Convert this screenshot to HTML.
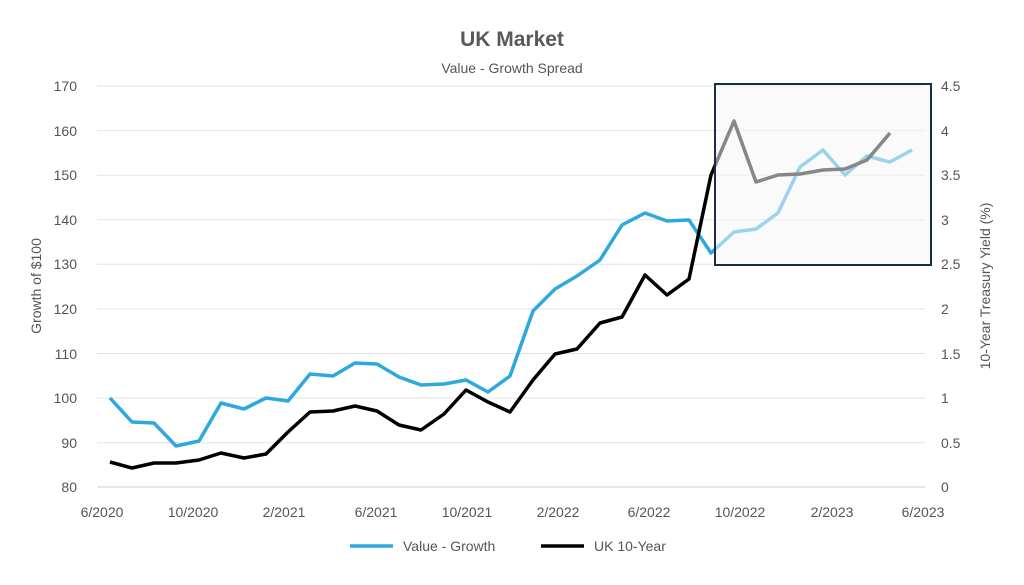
<!DOCTYPE html>
<html><head><style>
body{margin:0;background:#fff;}
svg text{font-family:"Liberation Sans",sans-serif;fill:#555;}
</style></head><body>
<svg width="1024" height="580" viewBox="0 0 1024 580" xmlns="http://www.w3.org/2000/svg">
<text x="512" y="46" text-anchor="middle" font-size="21" font-weight="bold" fill="#595959" style="fill:#595959">UK Market</text>
<text x="512" y="73" text-anchor="middle" font-size="14">Value - Growth Spread</text>
<g stroke="#e3e3e3" stroke-width="1">
<line x1="97" x2="925" y1="86" y2="86"/><line x1="97" x2="925" y1="130.6" y2="130.6"/>
<line x1="97" x2="925" y1="175.2" y2="175.2"/><line x1="97" x2="925" y1="219.8" y2="219.8"/>
<line x1="97" x2="925" y1="264.3" y2="264.3"/><line x1="97" x2="925" y1="308.9" y2="308.9"/>
<line x1="97" x2="925" y1="353.5" y2="353.5"/><line x1="97" x2="925" y1="398.1" y2="398.1"/>
<line x1="97" x2="925" y1="442.7" y2="442.7"/>
</g>
<line x1="97" x2="925" y1="487" y2="487" stroke="#cfcfcf"/>
<g font-size="14" text-anchor="end">
<text x="77" y="91">170</text><text x="77" y="136">160</text><text x="77" y="180">150</text>
<text x="77" y="225">140</text><text x="77" y="269">130</text><text x="77" y="314">120</text>
<text x="77" y="359">110</text><text x="77" y="403">100</text><text x="77" y="448">90</text>
<text x="77" y="492">80</text>
</g>
<g font-size="14" text-anchor="start">
<text x="941" y="91">4.5</text><text x="941" y="136">4</text><text x="941" y="180">3.5</text>
<text x="941" y="225">3</text><text x="941" y="269">2.5</text><text x="941" y="314">2</text>
<text x="941" y="359">1.5</text><text x="941" y="403">1</text><text x="941" y="448">0.5</text>
<text x="941" y="492">0</text>
</g>
<g font-size="14" text-anchor="middle">
<text x="102" y="517">6/2020</text><text x="193" y="517">10/2020</text><text x="284" y="517">2/2021</text>
<text x="376" y="517">6/2021</text><text x="467" y="517">10/2021</text><text x="558" y="517">2/2022</text>
<text x="649" y="517">6/2022</text><text x="740" y="517">10/2022</text><text x="832" y="517">2/2023</text>
<text x="923" y="517">6/2023</text>
</g>
<text transform="translate(41,286) rotate(-90)" text-anchor="middle" font-size="14">Growth of $100</text>
<text transform="translate(990,286) rotate(-90)" text-anchor="middle" font-size="14">10-Year Treasury Yield (%)</text>
<polyline fill="none" stroke="#2ea9dd" stroke-width="3.5" stroke-linejoin="round" points="110,398 132,422 154,423 176,446 199,441 221,403 244,409 266,398 288,401 310,374 333,376 355,363 377,364 399,377 421,385 444,384 466,380 488,392 510,376 533,311 555,289 577,276 600,260 622,225 645,213 667,221 689,220 711,253 734,232 756,229 778,213 800,167 823,150 845,175 867,156 890,162 912,150"/>
<polyline fill="none" stroke="#000" stroke-width="3.5" stroke-linejoin="round" points="110,462 132,468 154,463 176,463 199,460 221,453 244,458 266,454 288,432 310,412 333,411 355,406 377,411 399,425 421,430 444,414 466,390 488,402 510,412 533,380 555,354 577,349 600,323 622,317 645,275 667,295 689,279 711,175 734,121 756,182 778,175 800,174 823,170 845,169 867,160 890,133"/>
<rect x="715" y="84" width="216" height="181" fill="rgba(246,246,246,0.55)" stroke="#1c2a4d" stroke-width="2"/>
<line x1="350" x2="393" y1="546" y2="546" stroke="#2ea9dd" stroke-width="3.5"/>
<text x="403" y="551" font-size="14">Value - Growth</text>
<line x1="541" x2="584" y1="546" y2="546" stroke="#000" stroke-width="3.5"/>
<text x="594" y="551" font-size="14">UK 10-Year</text>
</svg>
</body></html>
